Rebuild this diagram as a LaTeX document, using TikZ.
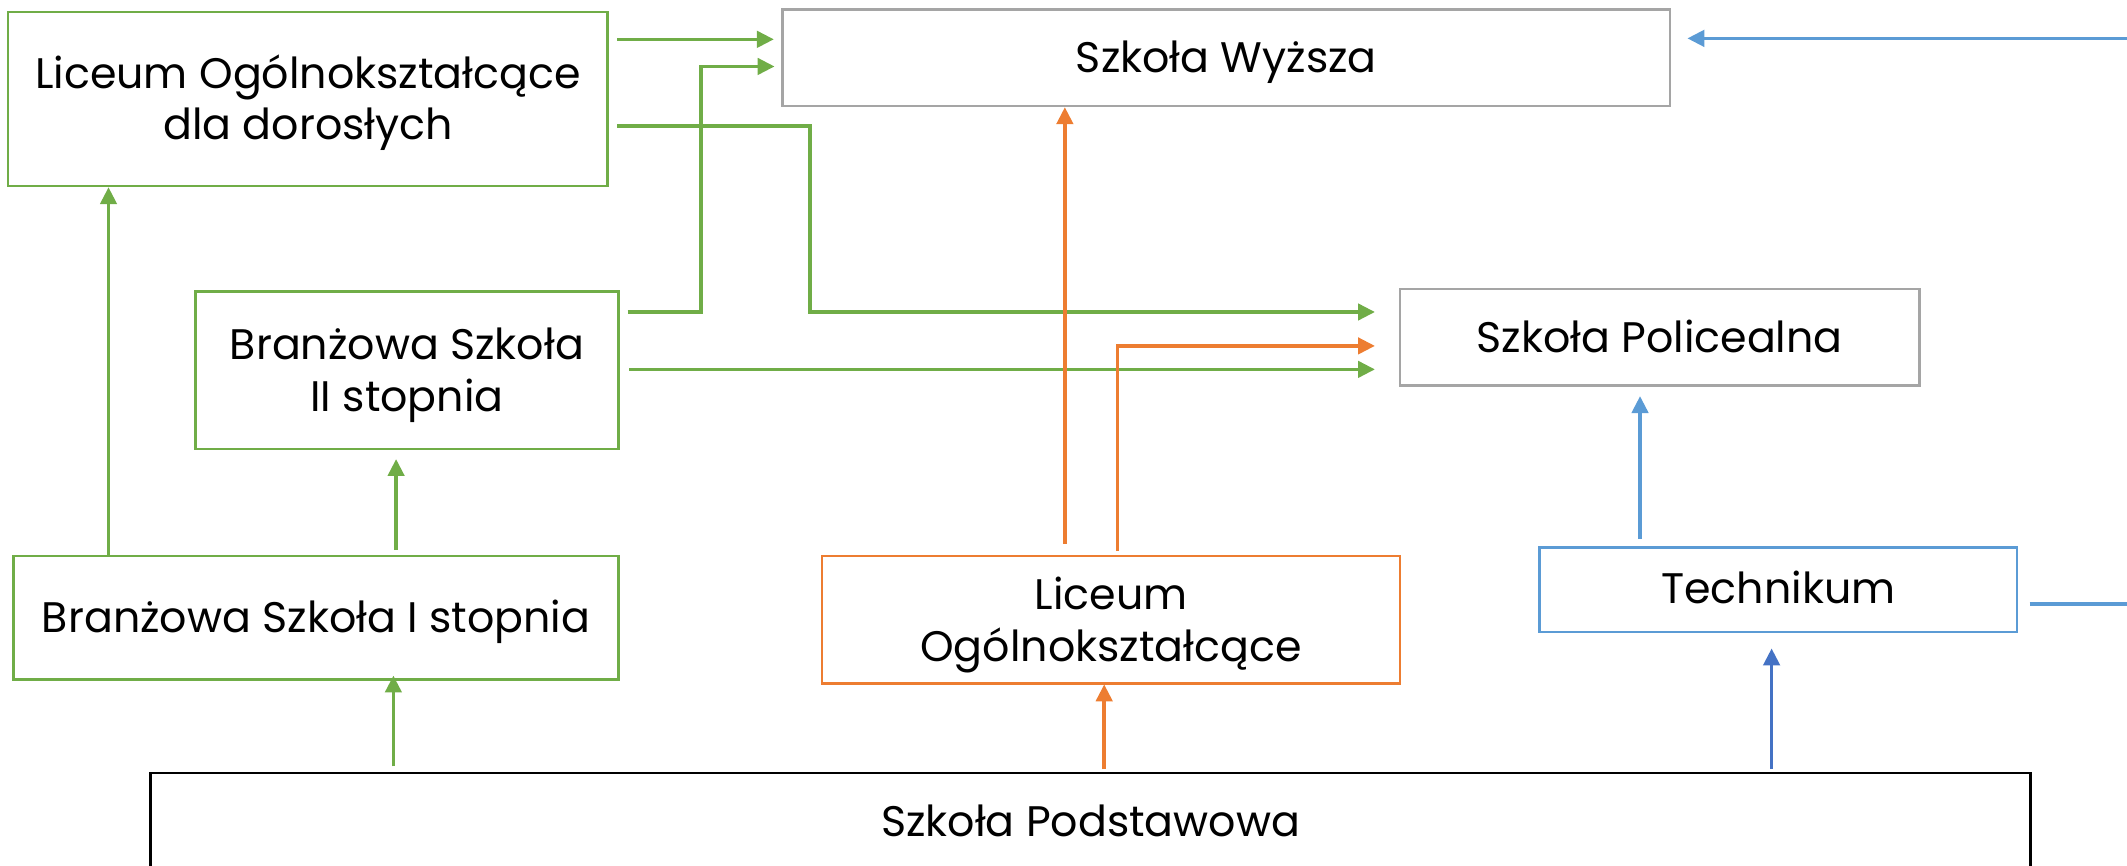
\documentclass[tikz,border=0pt]{standalone}
\usepackage{fontspec}
\setmainfont{Poppins}
\usetikzlibrary{arrows.meta,calc}
\definecolor{cgreen}{HTML}{70AD47}
\definecolor{corange}{HTML}{ED7D31}
\definecolor{cblue}{HTML}{5B9BD5}
\definecolor{cdblue}{HTML}{4472C4}
\definecolor{cgray}{HTML}{A5A5A5}
\begin{document}
\begin{tikzpicture}[x=1pt,y=-1pt,
  box/.style={draw,line width=1.85pt,inner sep=0pt,outer sep=0pt},
  txt/.style={anchor=base,inner sep=0pt,font=\fontsize{31.5}{38}\selectfont},
  conn/.style={line width=2.7pt,-{Triangle[length=12.5pt,width=12pt]}},
  plain/.style={line width=2.7pt},
  gconn/.style={conn,cgreen},
  oconn/.style={conn,corange},
  bconn/.style={conn,cblue}]
\useasboundingbox (0,0) rectangle (1568,638.4);
% boxes
\node[box,cgreen,minimum width=442pt,minimum height=128pt] (lod) at (227,73) {};
\node[box,cgray,minimum width=654pt,minimum height=71pt] (sw) at (904,42.5) {};
\node[box,cgreen,minimum width=312pt,minimum height=116pt] (b2) at (300,273) {};
\node[box,cgray,minimum width=383pt,minimum height=71pt] (sp) at (1223.5,248.5) {};
\node[box,cgreen,minimum width=446pt,minimum height=91pt] (b1) at (233,455.5) {};
\node[box,corange,minimum width=426pt,minimum height=94pt] (lo) at (819,457) {};
\node[box,cblue,minimum width=352pt,minimum height=62.5pt] (tech) at (1311,434.75) {};
\node[box,black,minimum width=1386pt,minimum height=72pt] (spod) at (804,606) {};
% texts
\node[txt] (lodt1) at ($(lod.center)+(0,-8)$) {Liceum Ogólnokształcące};
\node[txt] (lodt2) at ($(lod.center)+(0,30.1)$) {dla dorosłych};
\node[txt] (swt) at ($(sw.center)+(0,11)$) {Szkoła Wyższa};
\node[txt] (b2t1) at ($(b2.center)+(0,-8)$) {Branżowa Szkoła};
\node[txt] (b2t2) at ($(b2.center)+(0,30.1)$) {II stopnia};
\node[txt] (spt) at ($(sp.center)+(0,11)$) {Szkoła Policealna};
\node[txt] (b1t) at ($(b1.center)+(0,11)$) {Branżowa Szkoła I stopnia};
\node[txt] (lot1) at ($(lo.center)+(0,-7.5)$) {Liceum};
\node[txt] (lot2) at ($(lo.center)+(0,30.6)$) {Ogólnokształcące};
\node[txt] (techt) at ($(tech.center)+(0,10.5)$) {Technikum};
\node[txt] (spodt) at ($(spod.center)+(0,10.3)$) {Szkoła Podstawowa};
% off-page ends
\coordinate (offA) at (1575,28.3);
\coordinate (offB) at (1575,445.5);
% green connectors
\draw[gconn] ($(lod.north east)+(7,20)$) -- ($(sw.north west)+(-6.5,22)$);
\draw[gconn] ($(b2.north east)+(6.7,15.2)$) -| ($(sw.north west)+(-60.2,42)$) -- ($(sw.north west)+(-6,42)$);
\draw[gconn] ($(lod.north east)+(7,84)$) -| ($(sp.north west)+(-435,17)$) -- ($(sp.north west)+(-18.4,17)$);
\draw[gconn] ($(b2.north east)+(8,57.3)$) -- ($(sp.north west)+(-18.4,59.3)$);
\draw[gconn] ($(b1.north west)+(70,0)$) -- ($(lod.south west)+(74,1)$);
\draw[gconn] ($(b1.north)+(59,-4.5)$) -- ($(b2.south)+(-8,7.4)$);
\draw[gconn] ($(spod.north west)+(179,-5)$) -- ($(b1.south)+(57,-3)$);
% orange connectors
\draw[oconn] ($(lo.north west)+(179,-9)$) -- ($(sw.south west)+(208,1)$);
\draw[oconn] ($(lo.north west)+(217.7,-3.8)$) |- ($(sp.north west)+(-18.4,42)$);
\draw[oconn] ($(spod.north)+(10,-3)$) -- ($(lo.south)+(-5,0.5)$);
% blue connectors
\draw[bconn] ($(tech.north)+(-102,-6)$) -- ($(sp.south)+(-14.5,8)$);
\draw[bconn] (offA) -- ($(sw.east)+(12.9,-14.2)$);
\draw[plain,cblue] ($(tech.east)+(9.2,10.75)$) -- (offB);
\draw[conn,cdblue] ($(spod.north)+(502,-3)$) -- ($(tech.south)+(-5,12)$);
\end{tikzpicture}
\end{document}
